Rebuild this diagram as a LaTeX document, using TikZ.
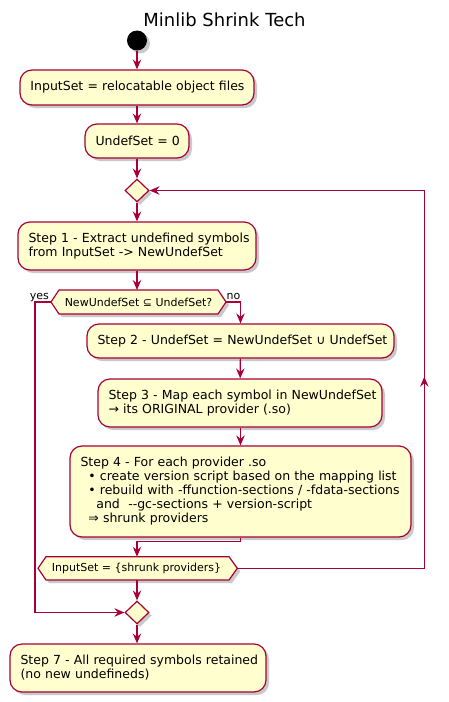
\documentclass[tikz,border=0pt]{standalone}
\usepackage{fontspec}
\setmainfont{DejaVu Sans}
\usetikzlibrary{arrows.meta,shapes.geometric,shadows}
\definecolor{pred}{HTML}{A80036}
\definecolor{pyel}{HTML}{FEFECE}
\newcommand{\Ln}[1]{\mbox{#1}}
\begin{document}
\begin{tikzpicture}[x=1pt,y=-1pt,
  shd/.style={drop shadow={shadow xshift=3pt,shadow yshift=-3pt,opacity=0.3,fill=black!70}},
  box/.style={draw=pred,fill=pyel,line width=1.2pt,rounded corners=12pt,inner xsep=10.5pt,inner ysep=0pt,align=left,font=\fontsize{12.5}{14}\selectfont,shd},
  hexa/.style={draw=pred,fill=pyel,line width=1.2pt,shd},
  dtext/.style={font=\fontsize{11}{13}\selectfont,inner sep=0pt},
  lbl/.style={font=\fontsize{11}{13}\selectfont,inner sep=0pt},
  merge/.style={diamond,draw=pred,fill=pyel,line width=1.2pt,minimum width=24pt,minimum height=23pt,inner sep=0pt,shd},
  ln/.style={draw=pred,line width=1.2pt},
  arr/.style={ln,-{Stealth[length=10pt,width=8.5pt,inset=3.5pt]}}
]
\useasboundingbox (0,0) rectangle (449,702);
\node[font=\fontsize{18}{20}\selectfont,inner sep=0pt,anchor=base] (title) at (224.5,26.7) {Minlib Shrink Tech};
\node[circle,fill=black,minimum size=20pt,inner sep=0pt,shd] (st) at (137,40.5) {};
\node[box,text width=213pt,minimum height=35pt] (b1) at (137,87.5) {\Ln{InputSet = relocatable object files}};
\node[box,text width=83pt,minimum height=34pt] (b2) at (137,141) {\Ln{UndefSet = 0}};
\node[merge] (m1) at (137,190.5) {};
\node[box,text width=217pt,minimum height=48pt] (s1) at (137,246) {\Ln{Step 1 - Extract undefined symbols}\\\Ln{from InputSet -> NewUndefSet}};
% decision 1
\coordinate (h1w) at (51,302);
\coordinate (h1e) at (226,302);
\coordinate (h1n) at (137,290);
\path[hexa] (51,302) -- (59,290) -- (218,290) -- (226,302) -- (218,314) -- (59,314) -- cycle;
\node[dtext] (d1) at (138.5,302) {NewUndefSet ⊆ UndefSet?};
\node[lbl,anchor=base east] (yes) at (49,299.5) {yes};
\node[lbl,anchor=base west] (no) at (226.5,299.5) {no};
\node[box,text width=286pt,minimum height=34pt] (s2) at (240.5,341) {\Ln{Step 2 - UndefSet = NewUndefSet ∪ UndefSet}};
\node[box,text width=263pt,minimum height=48pt] (s3) at (240,403) {\Ln{Step 3 - Map each symbol in NewUndefSet}\\\Ln{→ its ORIGINAL provider (.so)}};
\node[box,text width=320pt,minimum height=91pt] (s4) at (240.5,491.5) {\Ln{Step 4 - For each provider .so}\\
\Ln{\hspace*{7.9pt}• create version script based on the mapping list}\\
\Ln{\hspace*{7.9pt}• rebuild with -ffunction-sections / -fdata-sections}\\
\Ln{\hspace*{15.9pt}and\ \ -{}-gc-sections + version-script}\\
\Ln{\hspace*{7.9pt}⇒ shrunk providers}};
% decision 2
\coordinate (h2w) at (38,568.3);
\coordinate (h2e) at (237.3,568.3);
\coordinate (h2n) at (137,556.7);
\coordinate (h2s) at (137,580);
\path[hexa] (38,568.3) -- (46,556.7) -- (229,556.7) -- (237.3,568.3) -- (229,580) -- (46,580) -- cycle;
\node[dtext] (d2) at (136.5,568.3) {InputSet = \{shrunk providers\}};
\node[merge] (m2) at (137,612.5) {};
\node[box,text width=235pt,minimum height=48pt] (s7) at (138,668) {\Ln{Step 7 - All required symbols retained}\\\Ln{(no new undefineds)}};
% connectors
\draw[arr] (st) -- (b1);
\draw[arr] (b1) -- (b2);
\draw[arr] (b2) -- (m1);
\draw[arr] (m1) -- (s1.north -| m1);
\draw[arr] (s1.south) -- (h1n);
\coordinate (yc) at (35,302);
\draw[arr] (h1w) -- (yc) |- (m2.west);
\coordinate (nc) at (240.5,302);
\draw[arr] (h1e) -- (nc) -- (s2.north);
\draw[arr] (s2) -- (s3);
\draw[arr] (s3.south -| s4) -- (s4.north);
\coordinate (s4b) at (240.5,541.7);
\draw[arr] (s4.south) -- (s4b) -| (h2n);
\draw[arr] (h2s) -- (m2.north);
\draw[arr] (m2) -- (s7.north -| m2);
\coordinate (lp1) at (424.3,568.3);
\coordinate (lp2) at (424.3,190.5);
\coordinate (lpm) at (424.3,376.7);
\draw[arr] (h2e) -- (lp1) -- (lp2) -- (m1.east);
\draw[arr] (lp1) -- (lpm);
\end{tikzpicture}
\end{document}
